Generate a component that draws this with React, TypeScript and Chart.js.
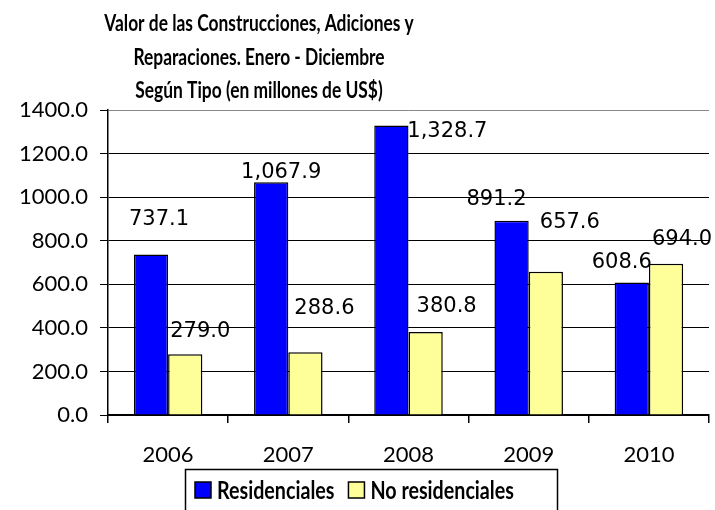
import React, { useEffect, useRef } from 'react';
import { Chart, registerables } from 'chart.js';

Chart.register(...registerables);

const categories = ['2006', '2007', '2008', '2009', '2010'];
const residenciales = [737.1, 1067.9, 1328.7, 891.2, 608.6];
const noResidenciales = [279.0, 288.6, 380.8, 657.6, 694.0];
const seriesNames = ['Residenciales', 'No residenciales'];
const seriesColors = ['#0000FF', '#FFFF99'];
const titleLines = [
  'Valor de las Construcciones, Adiciones y',
  'Reparaciones. Enero - Diciembre',
  'Según Tipo (en millones de US$)',
];
const yMin = 0;
const yMax = 1400;
const yStep = 200;

// style: manual nudges of data labels relative to each bar top [dx, dy]
const labelNudges = [
  [[8, -35], [10, -10], [56, 6], [-15, -21], [-10, -20]],
  [[15, -23], [19, -44], [21, -25], [24, -49], [16, -24]],
];

const fmt = (v: number) =>
  v.toLocaleString('en-US', { minimumFractionDigits: 1, maximumFractionDigits: 1 });

const titlePlugin = {
  id: 'customTitle',
  afterDraw(chart: any) {
    const ctx = chart.ctx;
    ctx.save();
    ctx.font = 'bold 22px Lato';
    ctx.fillStyle = '#000';
    ctx.textAlign = 'center';
    ctx.textBaseline = 'middle';
    const cx = 259;
    titleLines.forEach((t, i) => {
      const w = ctx.measureText(t).width;
      ctx.fillText(t, cx, 24 + i * 33.5, w * 0.79);
    });
    ctx.restore();
  },
};

const labelPlugin = {
  id: 'valueLabels',
  afterDatasetsDraw(chart: any) {
    const ctx = chart.ctx;
    ctx.save();
    ctx.font = '21px "DejaVu Sans"';
    ctx.fillStyle = '#000';
    ctx.textAlign = 'center';
    ctx.textBaseline = 'middle';
    chart.data.datasets.forEach((ds: any, di: number) => {
      const meta = chart.getDatasetMeta(di);
      meta.data.forEach((bar: any, i: number) => {
        const [dx, dy] = labelNudges[di][i];
        ctx.fillText(fmt(ds.data[i]), bar.x + dx, bar.y + dy);
      });
    });
    ctx.restore();
  },
};

const legendPlugin = {
  id: 'boxLegend',
  afterDraw(chart: any) {
    const ctx = chart.ctx;
    ctx.save();
    ctx.strokeStyle = '#000';
    ctx.lineWidth = 1.5;
    ctx.strokeRect(185.5, 469.5, 372, 50);
    ctx.font = 'bold 24px Lato';
    ctx.textBaseline = 'middle';
    ctx.textAlign = 'left';
    let x = 195;
    const cy = 490;
    chart.data.datasets.forEach((ds: any) => {
      ctx.fillStyle = ds.backgroundColor;
      ctx.fillRect(x, cy - 8, 16, 16);
      ctx.lineWidth = 1.5;
      ctx.strokeRect(x, cy - 8, 16, 16);
      ctx.fillStyle = '#000';
      const w = ctx.measureText(ds.label).width * 0.82;
      ctx.fillText(ds.label, x + 22, cy + 1, w);
      x += 22 + w + 14;
    });
    ctx.restore();
  },
};

export default function App() {
  const ref = useRef<HTMLCanvasElement | null>(null);
  useEffect(() => {
    if (!ref.current) return;
    const chart = new Chart(ref.current, {
      type: 'bar',
      data: {
        labels: categories,
        datasets: [
          {
            label: seriesNames[0],
            data: residenciales,
            backgroundColor: seriesColors[0],
            borderColor: '#000',
            borderWidth: 1.5,
            categoryPercentage: 0.57,
            barPercentage: 1,
          },
          {
            label: seriesNames[1],
            data: noResidenciales,
            backgroundColor: seriesColors[1],
            borderColor: '#000',
            borderWidth: 1.5,
            categoryPercentage: 0.57,
            barPercentage: 1,
          },
        ],
      },
      options: {
        responsive: false,
        animation: false,
        layout: { padding: { top: 110, left: 8, right: 6, bottom: 0 } },
        plugins: {
          legend: { display: false },
          title: { display: false },
          tooltip: { enabled: false },
        },
        scales: {
          x: {
            afterFit: (s: any) => {
              s.height = 95;
            },
            grid: {
              offset: true,
              drawOnChartArea: true,
              color: (c: any) => (c.index === categories.length ? '#888' : 'rgba(0,0,0,0)'),
              tickColor: '#000',
              tickLength: 8,
              lineWidth: 1.5,
            },
            border: { display: true, color: '#000', width: 2 },
            ticks: { color: '#000', font: { family: 'Lato', size: 22 }, padding: 19 },
          },
          y: {
            min: yMin,
            max: yMax,
            afterFit: (s: any) => {
              s.width = 100;
            },
            ticks: {
              stepSize: yStep,
              color: '#000',
              font: { family: 'Lato', size: 22 },
              padding: 12,
              callback: (v: any) => Number(v).toFixed(1),
            },
            grid: {
              color: (c: any) => (c.tick && c.tick.value === yMax ? '#888' : '#000'),
              tickColor: '#000',
              tickLength: 8,
              lineWidth: 1,
            },
            border: { display: true, color: '#000', width: 1.5 },
          },
        },
      },
      plugins: [titlePlugin, labelPlugin, legendPlugin],
    });
    return () => chart.destroy();
  }, []);
  return (
    <canvas
      ref={ref}
      width={715}
      height={510}
      style={{ position: 'absolute', left: 0, top: 0, width: 715, height: 510 }}
    />
  );
}
